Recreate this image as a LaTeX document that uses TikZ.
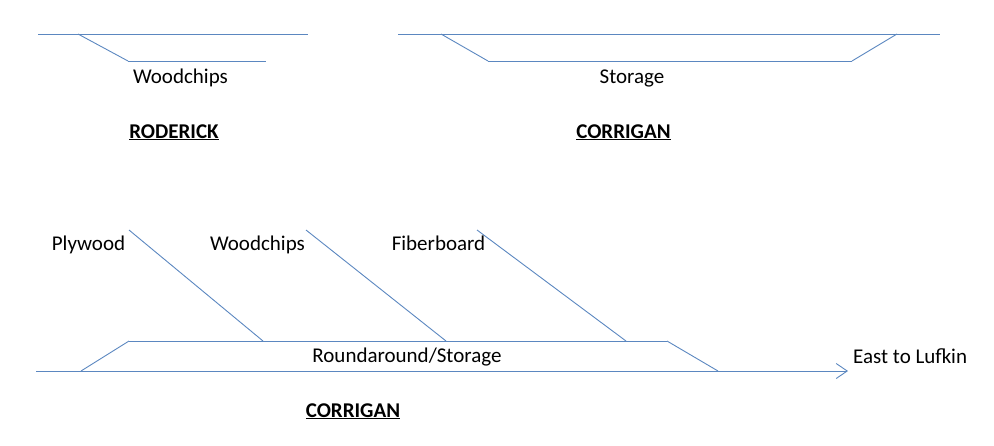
\documentclass[tikz,border=0pt]{standalone}
\usepackage{fontspec}
\setmainfont{Carlito}
\usetikzlibrary{arrows.meta}
\definecolor{trackblue}{HTML}{5B87C0}

\begin{document}
\begin{tikzpicture}[x=1pt,y=-1pt,
	track/.style={draw=trackblue,line width=0.9pt},
	lbl/.style={inner sep=0pt,anchor=base,font=\fontsize{21}{25}\selectfont},
	town/.style={lbl,font=\fontsize{21}{25}\selectfont\bfseries}]
	\useasboundingbox (0,0) rectangle (994,445);
	\coordinate (rod-w) at (38,34);  \coordinate (rod-e) at (308,34);
	\coordinate (rod-a) at (78,34);  \coordinate (rod-b) at (128,61); \coordinate (rod-c) at (266,61);
	\coordinate (cor-w) at (398,34); \coordinate (cor-e) at (940,34);
	\coordinate (cor-a) at (441,34); \coordinate (cor-b) at (488,61);
	\coordinate (cor-c) at (852,61); \coordinate (cor-d) at (897,34);
	\coordinate (main-w) at (36,371); \coordinate (main-e) at (848,371);
	\coordinate (main-a) at (81,371); \coordinate (main-b) at (129,341);
	\coordinate (main-c) at (667,341); \coordinate (main-d) at (718,371);
	\path[track]
	(rod-w) edge (rod-e)
	(rod-a) edge (rod-b) (rod-b) edge (rod-c)
	(cor-w) edge (cor-e)
	(cor-a) edge (cor-b) (cor-b) edge (cor-c) (cor-c) edge (cor-d)
	(main-w) edge[-{Straight Barb[length=11pt,width=15pt]}] (main-e)
	(main-a) edge (main-b) (main-b) edge (main-c) (main-c) edge (main-d);
	\foreach \top/\bot in {129/263,306/446,477/626}
	\draw[track] (\top,230) -- (\bot,341);
	\node[lbl] (rod-chips) at (180.5,83) {Woodchips};
	\node[town] (rod-name) at (174,138) {\underline{RODERICK}};
	\node[lbl] (cor-store) at (632,83) {Storage};
	\node[town] (cor-name) at (623.5,138) {\underline{CORRIGAN}};
	\node[lbl] (ply) at (88.5,250) {Plywood};
	\node[lbl] (chips) at (257.5,250) {Woodchips};
	\node[lbl] (fiber) at (438.5,250) {Fiberboard};
	\node[lbl] (round) at (407,362) {Roundaround/Storage};
	\node[lbl,anchor=base west] (east) at (853,363) {East to Lufkin};
	\node[town] (main-name) at (353,417) {\underline{CORRIGAN}};
\end{tikzpicture}
\end{document}
